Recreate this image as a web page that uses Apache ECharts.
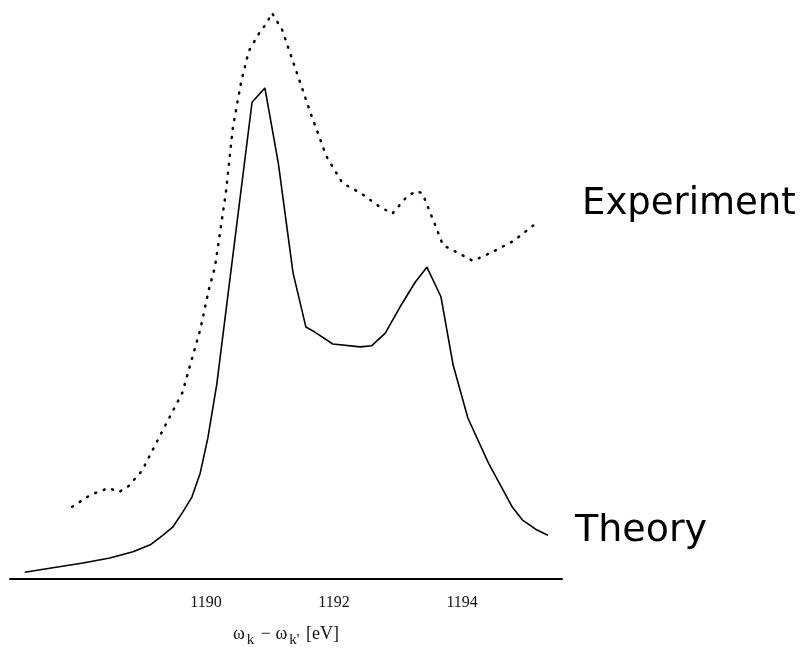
<!DOCTYPE html>
<html>

<head>
	<meta charset="UTF-8">
	<title></title>
	<style>
		html, body { margin: 0; padding: 0; background: #fff; }
		#chart1 {
			width: 809px;
			height: 651px;
		}
	</style>
	<script src="https://cdn.jsdelivr.net/npm/echarts@6/dist/echarts.min.js"></script>
</head>

<body>
	<div id="chart1"></div>
	<script>
		// x: energy (eV), y: intensity (arb. units, 0..100)
		var expX = [1187.91, 1188.20, 1188.48, 1188.64, 1188.78, 1189.00, 1189.31, 1189.63, 1189.91, 1190.05,
			1190.14, 1190.31, 1190.42, 1190.55, 1190.67, 1190.84, 1190.95, 1191.03, 1191.19, 1191.36,
			1191.64, 1191.88, 1192.13, 1192.42, 1192.69, 1192.91, 1193.13, 1193.28, 1193.38, 1193.58,
			1193.70, 1194.02, 1194.17, 1194.48, 1194.80, 1195.20];
		var expY = [12.7, 14.8, 16.0, 15.3, 16.2, 19.0, 25.8, 32.7, 43.8, 51.1,
			54.8, 67.8, 79.3, 87.4, 92.8, 96.1, 97.7, 99.5, 96.5, 90.9,
			81.7, 74.3, 69.6, 67.8, 65.6, 64.2, 67.1, 68.2, 67.8, 62.2,
			58.7, 56.8, 55.9, 57.5, 59.4, 62.9];

		var theoX = [1187.17, 1187.56, 1188.08, 1188.50, 1188.86, 1189.13, 1189.33, 1189.48, 1189.64, 1189.78,
			1189.91, 1190.03, 1190.17, 1190.72, 1190.92, 1191.13, 1191.36, 1191.56, 1191.70, 1191.98,
			1192.41, 1192.59, 1192.80, 1193.03, 1193.27, 1193.45, 1193.67, 1193.86, 1194.09, 1194.41,
			1194.78, 1194.94, 1195.17, 1195.34];
		var theoY = [1.2, 1.9, 2.8, 3.7, 4.8, 6.0, 7.7, 9.1, 11.8, 14.4,
			18.6, 24.8, 34.3, 83.8, 86.3, 73.1, 53.8, 44.3, 43.4, 41.3,
			40.8, 41.0, 43.2, 47.8, 52.2, 54.8, 49.6, 37.6, 28.3, 20.4,
			12.7, 10.4, 8.6, 7.7];

		var tickValues = [1190, 1192, 1194];

		function pairs(xs, ys) {
			var out = [];
			for (var i = 0; i < xs.length; i++) {
				out.push([xs[i], ys[i]]);
			}
			return out;
		}

		var myChart = echarts.init(document.getElementById('chart1'));
		myChart.setOption({
			animation: false,
			backgroundColor: '#fff',
			grid: {
				left: 10,
				right: 247,
				top: 10,
				bottom: 72,
				outerBoundsMode: 'none',
				containLabel: false
			},
			xAxis: {
				type: 'value',
				min: 1186.94,
				max: 1195.56,
				splitLine: { show: false },
				axisTick: { show: false },
				axisLine: {
					lineStyle: { color: '#000', width: 2 }
				},
				axisLabel: {
					customValues: tickValues,
					formatter: function (v) { return String(v); },
					color: '#111',
					fontFamily: 'Liberation Serif',
					fontSize: 16,
					margin: 16
				},
				name: '{a|ω}{s|k}{a| − ω}{s|k\'}{a| [eV]}',
				nameLocation: 'middle',
				nameGap: 42,
				nameTextStyle: {
					rich: {
						a: { fontFamily: 'Liberation Serif', fontSize: 18, color: '#111' },
						s: { fontFamily: 'Liberation Serif', fontSize: 15, color: '#111', padding: [12, 2, 0, 2] }
					}
				}
			},
			yAxis: {
				type: 'value',
				min: 0,
				max: 100,
				show: false
			},
			graphic: [
				{
					type: 'text',
					left: 582,
					top: 186,
					style: {
						text: 'Experiment',
						fontFamily: 'DejaVu Sans',
						fontSize: 37,
						fill: '#000'
					}
				},
				{
					type: 'text',
					left: 575,
					top: 512,
					style: {
						text: 'Theory',
						fontFamily: 'DejaVu Sans',
						fontSize: 38,
						fill: '#000'
					}
				}
			],
			series: [
				{
					name: 'Experiment',
					type: 'line',
					data: pairs(expX, expY),
					showSymbol: false,
					lineStyle: {
						color: '#000',
						width: 2.5,
						type: [1, 8],
						cap: 'round'
					}
				},
				{
					name: 'Theory',
					type: 'line',
					data: pairs(theoX, theoY),
					showSymbol: false,
					lineStyle: {
						color: '#000',
						width: 1.6
					}
				}
			]
		});
	</script>
</body>

</html>
